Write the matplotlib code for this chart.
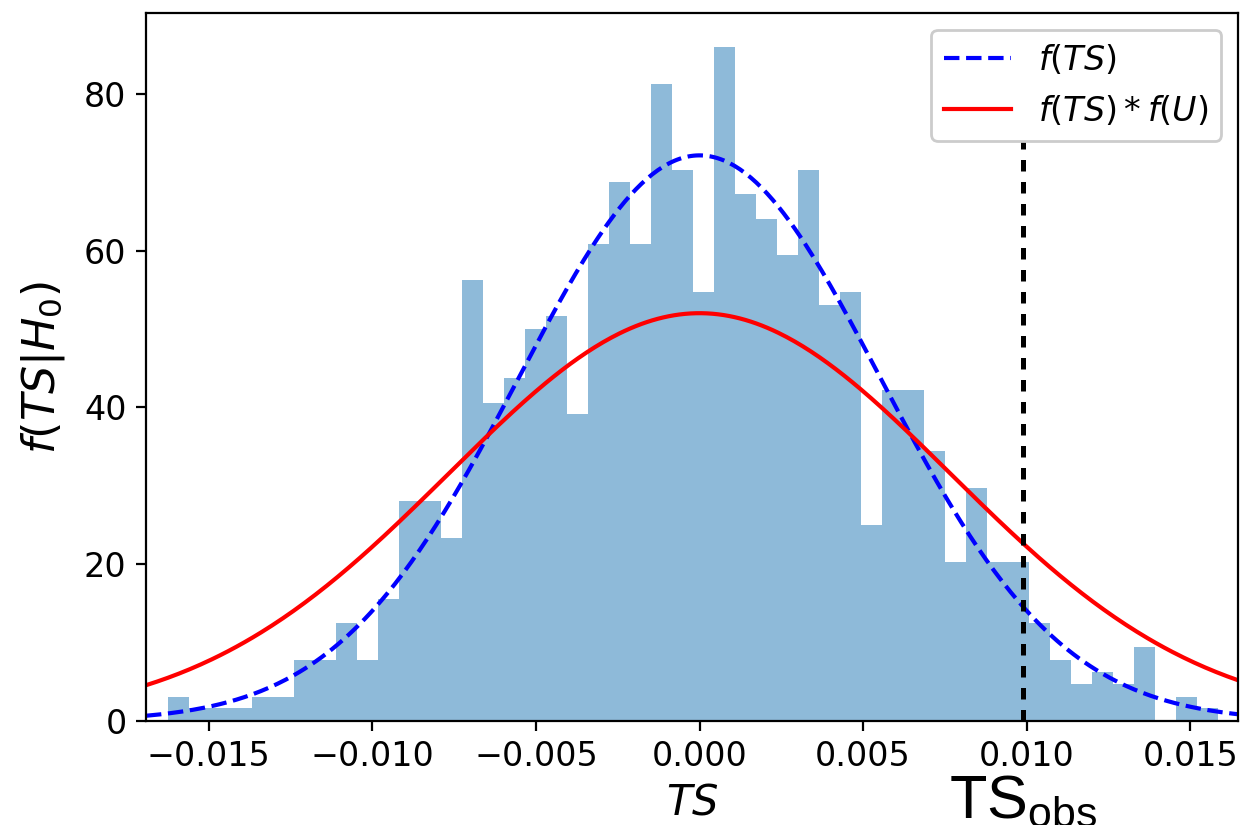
import numpy as np
import matplotlib.pyplot as plt

# --------------------------
# Data
# --------------------------
# histogram (density) heights for 50 equal bins
bin_start = -0.01626
bin_width = 0.000642
heights = [3.1, 1.6, 1.6, 1.6, 3.1, 3.1, 7.8, 7.8, 12.5, 7.8,
           15.6, 28.1, 28.1, 23.4, 56.2, 40.6, 43.7, 50.0, 51.6, 39.1,
           60.9, 68.7, 60.9, 81.2, 70.3, 54.7, 85.9, 67.2, 64.0, 59.4,
           70.3, 53.1, 54.7, 25.0, 42.2, 42.2, 34.4, 20.3, 29.7, 20.3,
           20.3, 12.5, 7.8, 4.7, 6.2, 4.7, 9.4, 0.0, 3.1, 1.6]

# fitted normal curves: f(TS) and f(TS)*f(U)
mu_ts = 0.0
sigma_ts = 0.00553
sigma_conv = 0.00767

ts_obs = 0.0099
xlim = (-0.01692, 0.01646)

edges = bin_start + bin_width * np.arange(len(heights) + 1)
centers = 0.5 * (edges[:-1] + edges[1:])


def normal_pdf(x, mu, sigma):
    return np.exp(-0.5 * ((x - mu) / sigma) ** 2) / (sigma * np.sqrt(2 * np.pi))


x = np.linspace(xlim[0], xlim[1], 400)

# --------------------------
# Plot
# --------------------------
plt.rcParams['font.size'] = 12
plt.rcParams['mathtext.rm'] = 'Liberation Sans'

fig = plt.figure(figsize=(6.275, 4.125), dpi=200)
ax = fig.add_axes([146 / 1255, 104 / 825, 1092 / 1255, 708 / 825])

ax.hist(centers, bins=edges, weights=heights, color='C0', alpha=0.5)
ax.plot(x, normal_pdf(x, mu_ts, sigma_ts), 'b--', label=r'$f(TS)$')
ax.plot(x, normal_pdf(x, mu_ts, sigma_conv), 'r-', label=r'$f(TS)*f(U)$')
ax.axvline(ts_obs, ymax=0.83, color='k', lw=1.8, dashes=(2.3, 2.1))

ax.set_xlim(*xlim)
ax.set_ylim(0, 90.3)
ax.set_xticks([-0.015, -0.010, -0.005, 0.0, 0.005, 0.010, 0.015])
ax.set_xlabel(r'$TS$', fontsize=15, labelpad=3)
ax.set_ylabel(r'$f(TS|H_0)$', fontsize=16, labelpad=6)

ax.text(ts_obs, -0.137, r'$\mathrm{TS}_{\mathrm{obs}}$', transform=ax.get_xaxis_transform(),
        ha='center', va='baseline', fontsize=22, math_fontfamily='custom')

ax.legend(loc='upper right', framealpha=1, fontsize=12)

fig.savefig('out.png', dpi=200)
